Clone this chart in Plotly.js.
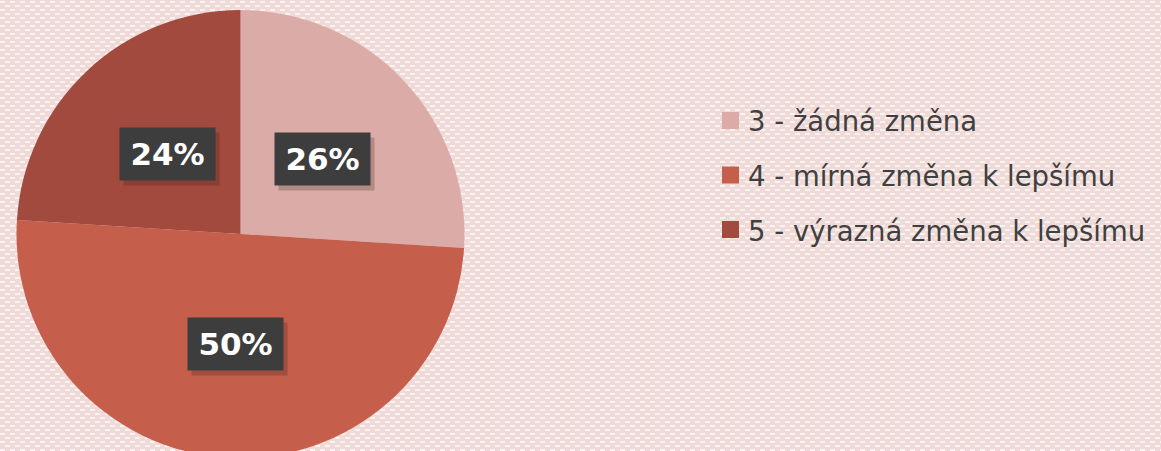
<!DOCTYPE html>
<html>
<head>
<meta charset="utf-8">
<script src="https://cdn.plot.ly/plotly-3.0.1.min.js"></script>
<style>
html, body { margin:0; padding:0; width:1161px; height:451px; overflow:hidden; }
body {
  background-color:#efdad7;
  background-image:url("data:image/svg+xml;utf8,<svg xmlns='http://www.w3.org/2000/svg' width='10' height='8'><rect x='0' y='1' width='5' height='2' fill='%23fbf3f2'/><rect x='5' y='5' width='5' height='2' fill='%23fbf3f2'/></svg>");
}
#chart { width:1161px; height:458px; }
</style>
</head>
<body>
<div id="chart"></div>
<script>
const categories = ["3 - žádná změna", "4 - mírná změna k lepšímu", "5 - výrazná změna k lepšímu"];
const values = [26, 50, 24];
const labelsText = ["26%", "50%", "24%"];
const colors = ["#dbaca7", "#c55e4b", "#a34a3e"];

const W = 1161, H = 458;
const cx = 240.5, cy = 234, R = 224;
const px = x => x / W;
const py = y => 1 - y / H;

const data = [{
  type: "pie",
  labels: categories,
  values: values,
  sort: false,
  direction: "clockwise",
  rotation: 0,
  marker: { colors: colors, line: { width: 0 } },
  textinfo: "none",
  hoverinfo: "label+percent",
  showlegend: false,
  domain: { x: [px(cx - R), px(cx + R)], y: [0, py(cy - R)] }
}];

const annotations = [];
const shapes = [];
const total = values.reduce((a, b) => a + b, 0);
let cum = 0;
values.forEach((v, i) => {
  const mid = (cum + v / 2) / total * 2 * Math.PI;
  cum += v;
  const r = 0.49 * R;
  const x = cx + 2 + r * Math.sin(mid);
  const y = cy - r * Math.cos(mid);
  // shadow
  annotations.push({
    xref: "paper", yref: "paper", x: px(x + 4), y: py(y + 5),
    xanchor: "center", yanchor: "middle", showarrow: false,
    text: " ", width: 75, height: 32, borderpad: 10,
    bgcolor: "rgba(60,30,25,0.25)", font: { size: 28 }
  });
  annotations.push({
    xref: "paper", yref: "paper", x: px(x), y: py(y),
    xanchor: "center", yanchor: "middle", showarrow: false,
    text: "<b>" + labelsText[i] + "</b>", width: 75, height: 32, borderpad: 10,
    bgcolor: "#3d3d3d",
    font: { family: "'DejaVu Sans', sans-serif", size: 31, color: "#ffffff" }
  });
});

// legend (custom)
const legendY0 = 120.5, legendStep = 54.5;
categories.forEach((c, i) => {
  const y = legendY0 + i * legendStep;
  shapes.push({
    type: "rect", xref: "paper", yref: "paper",
    x0: px(722), x1: px(739), y0: py(y - 8.5), y1: py(y + 8.5),
    fillcolor: colors[i], line: { width: 0 }
  });
  annotations.push({
    xref: "paper", yref: "paper", x: px(746), y: py(y + 1),
    xanchor: "left", yanchor: "middle", showarrow: false,
    text: c,
    font: { family: "'DejaVu Sans', sans-serif", size: 27.5, color: "#404040" }
  });
});

const layout = {
  width: W, height: H,
  margin: { l: 0, r: 0, t: 0, b: 0 },
  paper_bgcolor: "rgba(0,0,0,0)",
  plot_bgcolor: "rgba(0,0,0,0)",
  showlegend: false,
  annotations: annotations,
  shapes: shapes
};

Plotly.newPlot("chart", data, layout, { displayModeBar: false, staticPlot: true });
</script>
</body>
</html>
